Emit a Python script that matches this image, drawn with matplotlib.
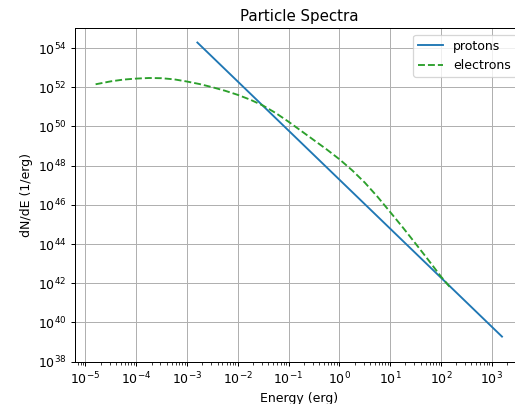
import matplotlib
matplotlib.use("Agg")
import matplotlib.pyplot as plt
import numpy as np

# Protons: energy (erg) and log10 dN/dE (1/erg), straight power law on log-log
proton_E = [1.6e-3, 1.6e-2, 1.6e-1, 1.6e0, 1.6e1, 1.6e2, 1.6e3]
proton_logN = [54.28, 51.78, 49.28, 46.78, 44.28, 41.78, 39.28]

# Electrons: log10 energy and log10 dN/dE
electron_logE = [-4.8, -4.5, -4.25, -4.0, -3.75, -3.5, -3.25, -3.0, -2.75, -2.5,
                 -2.25, -2.0, -1.75, -1.5, -1.25, -1.0, -0.75, -0.5, -0.25, 0.0,
                 0.25, 0.5, 0.75, 1.0, 1.25, 1.5, 1.75, 2.0, 2.18]
electron_logN = [52.15, 52.30, 52.39, 52.44, 52.47, 52.46, 52.40, 52.29, 52.16, 52.00,
                 51.82, 51.61, 51.36, 51.06, 50.68, 50.24, 49.77, 49.30, 48.83, 48.33,
                 47.77, 47.14, 46.42, 45.64, 44.85, 44.03, 43.20, 42.35, 41.80]

DPI = 90
fig = plt.figure(figsize=(515 / DPI, 404 / DPI), dpi=DPI)
ax = fig.add_axes([0.1462, 0.1047, 0.868, 0.825])

ax.plot(proton_E, np.power(10.0, proton_logN), color="#1f77b4", label="protons")
ax.plot(np.power(10.0, electron_logE), np.power(10.0, electron_logN), color="#2ca02c",
        ls="--", label="electrons")

ax.set_xscale("log")
ax.set_yscale("log")
ax.set_ylim(1e38, 1e55)
ax.grid(True)
ax.set_xlabel("Energy (erg)")
ax.set_ylabel("dN/dE (1/erg)")
ax.set_title("Particle Spectra")
ax.legend(loc="upper right")

fig.savefig("out.png", dpi=DPI)
